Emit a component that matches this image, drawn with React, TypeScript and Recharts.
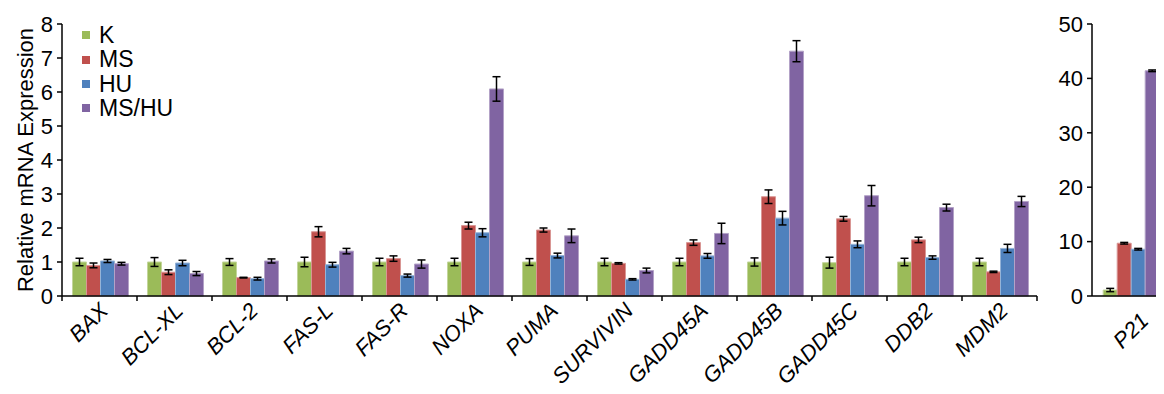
import React from 'react';
import { BarChart, Bar, XAxis, YAxis, ErrorBar, Legend } from 'recharts';

const genes = ['BAX', 'BCL-XL', 'BCL-2', 'FAS-L', 'FAS-R', 'NOXA', 'PUMA', 'SURVIVIN', 'GADD45A', 'GADD45B', 'GADD45C', 'DDB2', 'MDM2'];
const kVals = [1.0, 1.0, 1.0, 1.0, 1.0, 1.0, 1.0, 1.0, 1.0, 1.0, 0.98, 1.0, 1.0];
const msVals = [0.9, 0.7, 0.54, 1.89, 1.1, 2.07, 1.94, 0.96, 1.57, 2.92, 2.27, 1.65, 0.71];
const huVals = [1.03, 0.97, 0.51, 0.92, 0.6, 1.86, 1.19, 0.49, 1.18, 2.29, 1.52, 1.13, 1.4];
const mshuVals = [0.95, 0.66, 1.03, 1.32, 0.94, 6.09, 1.77, 0.75, 1.84, 7.2, 2.95, 2.6, 2.78];
const kErr = [0.11, 0.13, 0.1, 0.14, 0.11, 0.11, 0.1, 0.11, 0.11, 0.12, 0.16, 0.11, 0.11];
const msErr = [0.07, 0.07, 0.01, 0.15, 0.08, 0.1, 0.06, 0.02, 0.08, 0.2, 0.07, 0.08, 0.02];
const huErr = [0.045, 0.08, 0.04, 0.07, 0.045, 0.12, 0.07, 0.02, 0.07, 0.2, 0.1, 0.05, 0.12];
const mshuErr = [0.04, 0.06, 0.06, 0.08, 0.12, 0.36, 0.2, 0.07, 0.3, 0.31, 0.3, 0.1, 0.15];
const leftTicks = [0, 1, 2, 3, 4, 5, 6, 7, 8];

const p21Gene = ['P21'];
const p21K = [1.1];
const p21MS = [9.7];
const p21HU = [8.6];
const p21MSHU = [41.4];
const p21KErr = [0.3];
const p21MSErr = [0.15];
const p21HUErr = [0.15];
const p21MSHUErr = [0.15];
const rightTicks = [0, 10, 20, 30, 40, 50];

const seriesNames = ['K', 'MS', 'HU', 'MS/HU'];
const colors = ['#9BBB59', '#C0504D', '#4F81BD', '#8064A2'];
const edgeColors = ['#c3d69b', '#d99694', '#95b3d7', '#b3a2c7'];

const leftData = genes.map((g, i) => ({
  gene: g,
  K: kVals[i], MS: msVals[i], HU: huVals[i], MSHU: mshuVals[i],
  KErr: kErr[i], MSErr: msErr[i], HUErr: huErr[i], MSHUErr: mshuErr[i],
}));
const rightData = p21Gene.map((g, i) => ({
  gene: g,
  K: p21K[i], MS: p21MS[i], HU: p21HU[i], MSHU: p21MSHU[i],
  KErr: p21KErr[i], MSErr: p21MSErr[i], HUErr: p21HUErr[i], MSHUErr: p21MSHUErr[i],
}));
const keys = ['K', 'MS', 'HU', 'MSHU'];

const FONT = '"Liberation Sans", Arial, sans-serif';

const makeXTick = (labelDx: number, labelDy: number, bounds: boolean, count: number) => (props: any) => {
  const { x, y, payload, index } = props;
  const half = payload && payload.offset ? payload.offset : 0;
  const lx = x + labelDx;
  const ly = y + labelDy;
  return (
    <g>
      {bounds && <line x1={x - half} y1={y} x2={x - half} y2={y + 5} stroke="#000" strokeWidth={1.5} />}
      {bounds && index === count - 1 && (
        <line x1={x + half} y1={y} x2={x + half} y2={y + 5} stroke="#000" strokeWidth={1.5} />
      )}
      <text
        x={lx}
        y={ly}
        transform={`rotate(-45, ${lx}, ${ly})`}
        textAnchor="end"
        fontStyle="italic"
        fontSize={22}
        fontFamily={FONT}
        fill="#000"
      >
        {payload.value}
      </text>
    </g>
  );
};

const renderLegend = () => (
  <div style={{ fontFamily: FONT, fontSize: 23, color: '#000' }}>
    {seriesNames.map((n, i) => (
      <div key={n} style={{ display: 'flex', alignItems: 'center', height: 24.4, lineHeight: '24.4px' }}>
        <span style={{ display: 'inline-block', width: 8, height: 8, background: colors[i], marginRight: 9 }} />
        <span>{n}</span>
      </div>
    ))}
  </div>
);

const renderBars = () =>
  keys.map((k, i) => (
    <Bar
      key={k}
      dataKey={k}
      name={seriesNames[i]}
      fill={colors[i]}
      stroke={edgeColors[i]}
      strokeWidth={1}
      isAnimationActive={false}
    >
      <ErrorBar dataKey={`${k}Err`} width={4} stroke="#000" strokeWidth={1.5} isAnimationActive={false} />
    </Bar>
  ));

export default function App() {
  return (
    <div style={{ position: 'relative', width: 1156, height: 386, overflow: 'hidden', fontFamily: FONT }}>
      <div style={{ position: 'absolute', left: 0, top: 0 }}>
        <BarChart
          width={1032}
          height={386}
          data={leftData}
          margin={{ top: 16, right: 3, bottom: 0, left: 0 }}
          barCategoryGap="14%"
          barGap={0}
        >
          <XAxis
            dataKey="gene"
            height={98}
            axisLine={{ stroke: '#000', strokeWidth: 1.5 }}
            tickLine={false}
            tickSize={0}
            tickMargin={0}
            interval={0}
            tick={makeXTick(10, 16, true, genes.length)}
          />
          <YAxis
            width={54}
            domain={[0, 8]}
            ticks={leftTicks}
            interval={0}
            axisLine={{ stroke: '#000', strokeWidth: 1.5 }}
            tickLine={{ stroke: '#000', strokeWidth: 1.5 }}
            tickSize={5}
            tickMargin={4}
            tick={{ fill: '#000', fontSize: 22, fontFamily: FONT }}
            label={{
              value: 'Relative mRNA Expression',
              angle: -90,
              position: 'insideLeft',
              offset: 17,
              style: { textAnchor: 'middle', fill: '#000', fontSize: 22, fontFamily: FONT },
            }}
          />
          <Legend
            layout="vertical"
            align="center"
            verticalAlign="middle"
            content={renderLegend}
            wrapperStyle={{ top: 15, left: 74, width: 130, height: 100 }}
          />
          {renderBars()}
        </BarChart>
      </div>
      <div style={{ position: 'absolute', left: 1032, top: 0 }}>
        <BarChart
          width={132}
          height={386}
          data={rightData}
          margin={{ top: 16, right: 0, bottom: 0, left: 0 }}
          barCategoryGap="14%"
          barGap={0}
        >
          <XAxis
            dataKey="gene"
            height={98}
            axisLine={{ stroke: '#000', strokeWidth: 1.5 }}
            tickLine={false}
            tickSize={0}
            tickMargin={0}
            interval={0}
            tick={makeXTick(18, 26, false, 1)}
          />
          <YAxis
            width={52}
            domain={[0, 50]}
            ticks={rightTicks}
            interval={0}
            axisLine={{ stroke: '#000', strokeWidth: 1.5 }}
            tickLine={{ stroke: '#000', strokeWidth: 1.5 }}
            tickSize={5}
            tickMargin={4}
            tick={{ fill: '#000', fontSize: 22, fontFamily: FONT }}
          />
          {renderBars()}
        </BarChart>
      </div>
    </div>
  );
}
